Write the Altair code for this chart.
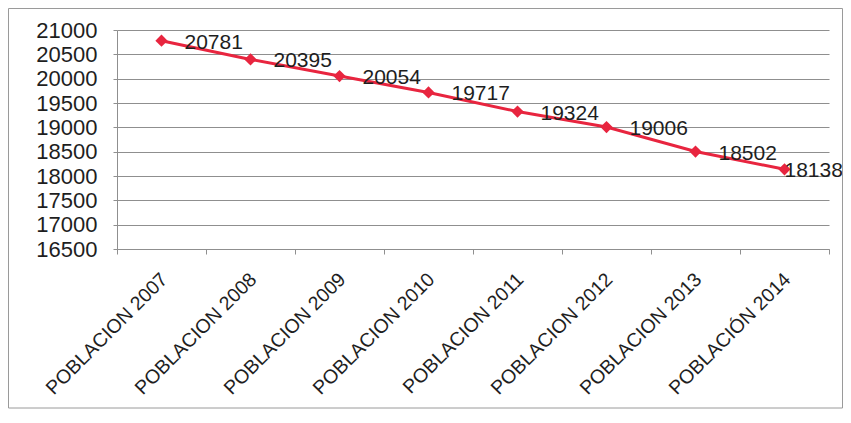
import altair as alt
import pandas as pd

categories = ["POBLACION 2007", "POBLACION 2008", "POBLACION 2009", "POBLACION 2010",
              "POBLACION 2011", "POBLACION 2012", "POBLACION 2013", "POBLACIÓN 2014"]
values = [20781, 20395, 20054, 19717, 19324, 19006, 18502, 18138]
y_ticks = [16500, 17000, 17500, 18000, 18500, 19000, 19500, 20000, 20500, 21000]

RED = "#e8253f"
GRID = "#8f8f8f"
TXT = "#1e1e1e"
FONT = "Liberation Sans"

W, H = 712, 219
LEFT = 109

df = pd.DataFrame({"cat": categories, "val": values})

x_enc = alt.X(
    "cat:N", sort=categories,
    scale=alt.Scale(type="band", paddingInner=0, paddingOuter=0),
    axis=alt.Axis(title=None, bandPosition=1, tickExtra=True,
                  labelOffset=3, labelAngle=-45, labelAlign="right",
                  labelBaseline="middle", labelPadding=22, tickSize=5,
                  labelFontSize=19.5, labelFont=FONT, labelColor=TXT, labelOverlap=False,
                  domainColor=GRID, tickColor=GRID, grid=False),
)
y_enc = alt.Y(
    "val:Q",
    scale=alt.Scale(domain=[16500, 21000], nice=False, zero=False),
    axis=alt.Axis(title=None, values=y_ticks, tickCount=len(y_ticks), format="d",
                  tickSize=4, labelPadding=16,
                  labelFontSize=22, labelFont=FONT, labelColor=TXT, labelOverlap=False,
                  domainColor=GRID, tickColor=GRID, gridColor=GRID, grid=True),
)

base = alt.Chart(df)

line = base.mark_line(color=RED, strokeWidth=3,
                      point=alt.OverlayMarkDef(shape="diamond", size=150, filled=True, color=RED)
                      ).encode(x=x_enc, y=y_enc)

labels = base.transform_filter(alt.datum.cat != categories[-1]).mark_text(
    align="left", baseline="middle", dx=23, dy=2, fontSize=21, font=FONT, color=TXT
).encode(x=alt.X("cat:N", sort=categories), y="val:Q", text="val:Q")

last_label = base.transform_filter(alt.datum.cat == categories[-1]).mark_text(
    align="left", baseline="middle", dx=0, dy=2, fontSize=21, font=FONT, color=TXT
).encode(x=alt.X("cat:N", sort=categories), y="val:Q", text="val:Q")

frame = alt.Chart(pd.DataFrame({"f": [0]})).mark_rect(
    filled=False, stroke="#9a9a9a", strokeWidth=1
).encode(x=alt.value(0.5 - LEFT), x2=alt.value(834.5 - LEFT), y=alt.value(-21.5), y2=alt.value(378))

chart = alt.layer(line, labels, last_label, frame).properties(
    width=W, height=H,
    autosize=alt.AutoSizeParams(type="none"),
    padding={"left": LEFT, "top": 22, "right": 835 - LEFT - W, "bottom": 160},
).configure_view(stroke="transparent")

chart.save("out.html", embed_options={"renderer": "svg", "actions": False})
